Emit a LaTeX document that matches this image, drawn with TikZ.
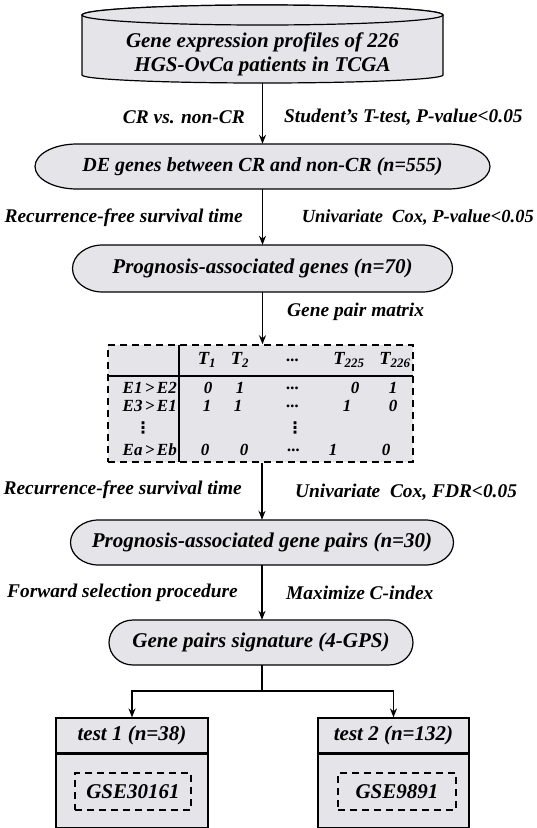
\documentclass[tikz,border=0pt]{standalone}
\usepackage{fontspec}
\setmainfont{Liberation Serif}
\newfontfamily\dejavu{DejaVu Sans}
\usetikzlibrary{arrows.meta}
\definecolor{boxgray}{RGB}{228,228,233}
\tikzset{
  every node/.style={font=\fontsize{21}{24}\selectfont\bfseries\itshape},
  lbl/.style={font=\fontsize{19.4}{22}\selectfont\bfseries\itshape, inner sep=0pt},
  mtxt/.style={font=\fontsize{17}{20}\selectfont\bfseries\itshape, inner sep=0pt},
  htxt/.style={font=\fontsize{18.5}{20}\selectfont\bfseries\itshape, inner sep=0pt},
  outline/.style={draw=black, line width=1.2pt, fill=boxgray},
  arr/.style={line width=1.4pt, -{Stealth[length=9pt,width=7pt]}},
  conn/.style={line width=1.4pt},
  dashbox/.style={draw=black, line width=1.5pt, dash pattern=on 7pt off 5pt},
}
\newcommand\myvdots{{\dejavu\fontsize{16}{18}\selectfont ⋮}}
% name, cx, cy, half width, half height, end x-radius, text
\newcommand\stadium[7]{%
  \path[outline] (#2-#4+#6,#3+#5) -- (#2+#4-#6,#3+#5)
     arc[start angle=90,end angle=-90,x radius=#6pt,y radius=#5pt]
     -- (#2-#4+#6,#3-#5)
     arc[start angle=270,end angle=90,x radius=#6pt,y radius=#5pt] -- cycle;
  \node[draw=none, inner sep=0pt, minimum width={(2*#4)*1pt}, minimum height={(2*#5)*1pt}] (#1) at (#2,#3) {#7};%
}
\begin{document}
\begin{tikzpicture}[x=1pt,y=1pt]
\useasboundingbox (0,0) rectangle (536,-828);

% cylinder
\path[outline] (82,-15) -- (82,-75)
   arc[start angle=180,end angle=360,x radius=180.5pt,y radius=8pt]
   -- (443,-15)
   arc[start angle=0,end angle=180,x radius=180.5pt,y radius=10pt] -- cycle;
\draw[outline] (262.5,-15) ellipse [x radius=180.5pt, y radius=10pt];
\node[align=center, inner sep=0pt, minimum width=361pt, minimum height=58pt] (cyl) at (262.5,-54)
  {Gene expression profiles of 226\\HGS-OvCa patients in TCGA};

% main flow nodes
\stadium{de}{262.5}{-166.5}{227.5}{22.5}{42}{\fontsize{20}{24}\selectfont DE genes between CR and non-CR (n=555)}
\stadium{prog}{262.5}{-268.5}{190}{23.5}{30}{Prognosis-associated genes (n=70)}
\stadium{pairs}{262}{-542.5}{191.5}{22.5}{28}{Prognosis-associated gene pairs (n=30)}
\stadium{sig}{261}{-642.5}{152}{22.5}{24}{Gene pairs signature (4-GPS)}

% matrix
\node[dashbox, fill=boxgray, minimum width=305pt, minimum height=117pt, inner sep=0pt] (mat) at (260.5,-403.5) {};
\coordinate (vtop) at (179,-345);
\coordinate (vbot) at (179,-462);
\coordinate (hl) at (108,-376);
\coordinate (hr) at (413,-376);
\draw[conn] (vtop) -- (vbot);
\draw[conn] (hl) -- (hr);

\node[htxt] (h1) at (207,-360) {T\textsubscript{1}};
\node[htxt] (h2) at (240,-360) {T\textsubscript{2}};
\node[mtxt] (h3) at (293,-360) {...};
\node[htxt] (h4) at (349,-360) {T\textsubscript{225}};
\node[htxt] (h5) at (395,-360) {T\textsubscript{226}};

\node[mtxt, anchor=east] (ra) at (177,-388) {E1\hspace{0.14em}>\hspace{0.14em}E2};
\node[mtxt] (a1) at (208,-388) {0};
\node[mtxt] (a2) at (240,-388) {1};
\node[mtxt] (a3) at (293,-388) {...};
\node[mtxt] (a4) at (355,-388) {0};
\node[mtxt] (a5) at (393,-388) {1};

\node[mtxt, anchor=east] (rb) at (177,-406) {E3\hspace{0.14em}>\hspace{0.14em}E1};
\node[mtxt] (b1v) at (207,-406) {1};
\node[mtxt] (b2v) at (238,-406) {1};
\node[mtxt] (b3v) at (293,-406) {...};
\node[mtxt] (b4v) at (347,-406) {1};
\node[mtxt] (b5v) at (393,-406) {0};

\node[inner sep=0pt] (rc) at (143,-428) {\myvdots};
\node[inner sep=0pt] (c3) at (295,-428) {\myvdots};

\node[mtxt, anchor=east] (rd) at (177,-450) {Ea\hspace{0.14em}>\hspace{0.14em}Eb};
\node[mtxt] (d1) at (205,-450) {0};
\node[mtxt] (d2) at (244,-450) {0};
\node[mtxt] (d3) at (294,-450) {...};
\node[mtxt] (d4) at (333,-450) {1};
\node[mtxt] (d5) at (386,-450) {0};

% bottom boxes
\node[outline, minimum width=152pt, minimum height=35pt, inner sep=0pt] (t1) at (132,-735.5) {test 1 (n=38)};
\node[outline, minimum width=152pt, minimum height=73pt, inner sep=0pt, anchor=north] (bx1) at (t1.south) {};
\node[dashbox, minimum width=116pt, minimum height=37pt, inner sep=0pt] (g1) at (133,-791.5) {GSE30161};

\node[outline, minimum width=151pt, minimum height=35pt, inner sep=0pt] (t2) at (393.5,-735.5) {test 2 (n=132)};
\node[outline, minimum width=151pt, minimum height=73pt, inner sep=0pt, anchor=north] (bx2) at (t2.south) {};
\node[dashbox, minimum width=118pt, minimum height=37pt, inner sep=0pt] (g2) at (397,-791.5) {GSE9891};

% connectors
\draw[arr] (cyl.south) -- (cyl.south |- de.north);
\draw[arr] (de.south) -- (de.south |- prog.north);
\draw[arr] (prog.south) -- (prog.south |- mat.north);
\draw[arr] (pairs.north |- mat.south) -- (pairs.north);
\draw[arr] (pairs.south) -- (pairs.south |- sig.north);
\coordinate (j) at (262,-691);
\draw[conn] (sig.south -| j) -- (j);
\draw[arr] (j) -| (t1.north);
\draw[arr] (j) -| (t2.north);

% labels
\node[lbl, anchor=east] (l1) at (245,-117) {CR vs. non-CR};
\node[lbl, anchor=west] (r1) at (284,-117) {Student’s T-test, P-value<0.05};
\node[lbl, anchor=east] (l2) at (243,-218) {Recurrence-free survival time};
\node[lbl, anchor=east, font=\fontsize{18.5}{22}\selectfont\bfseries\itshape] (r2) at (534,-218) {Univariate\ \ Cox, P-value<0.05};
\node[lbl, anchor=west] (r3) at (287,-312) {Gene pair matrix};
\node[lbl, anchor=east] (l4) at (242,-490) {Recurrence-free survival time};
\node[lbl, anchor=west] (r4) at (295,-492) {Univariate\ \ Cox, FDR<0.05};
\node[lbl, anchor=east] (l5) at (238,-593) {Forward selection procedure};
\node[lbl, anchor=west] (r5) at (286,-593) {Maximize C-index};
\end{tikzpicture}
\end{document}
